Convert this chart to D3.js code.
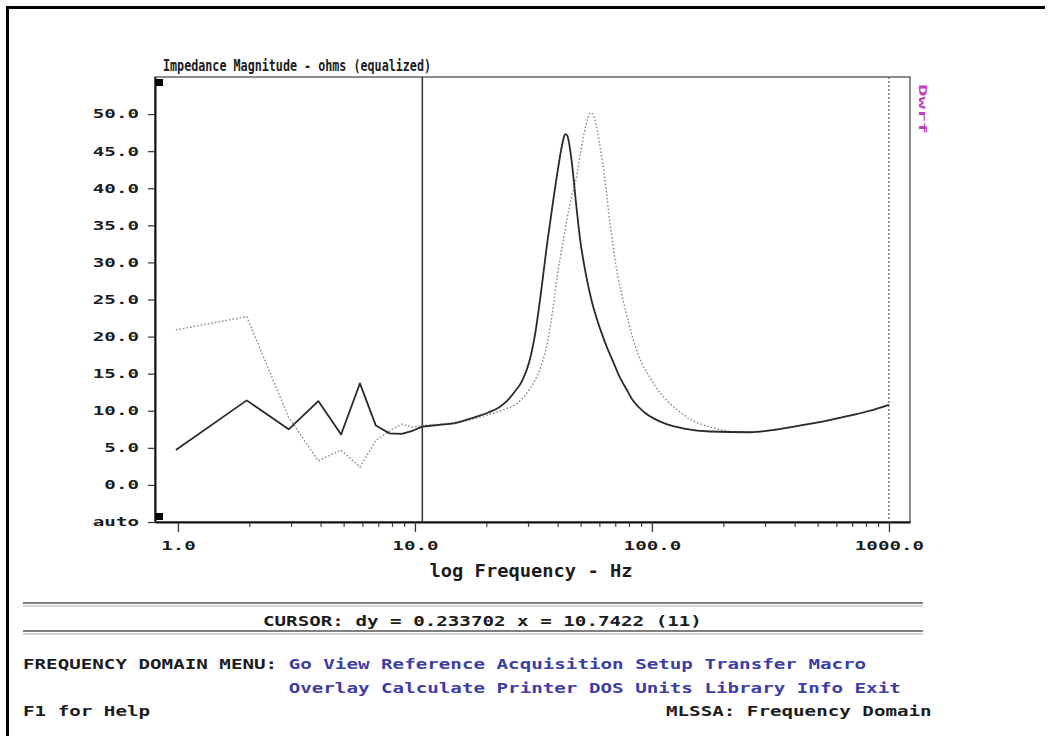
<!DOCTYPE html>
<html>
<head>
<meta charset="utf-8">
<script src="https://cdn.jsdelivr.net/npm/d3@7"></script>
<style>
  html, body { margin: 0; padding: 0; background: #fff; }
  svg text { font-family: "DejaVu Sans Mono", monospace; font-weight: bold; }
</style>
</head>
<body>
<svg id="chart" width="1050" height="736"></svg>
<script>
// MLSSA impedance screen: measured curve (solid) vs reference overlay (dotted)

// measured curve, Hz / ohms
const measFreq = [0.98, 1.95, 2.93, 3.91, 4.88, 5.86, 6.84, 7.81, 8.79, 9.77, 10.74,
  12.7, 14.6, 16.6, 18.6, 20.5, 22.5, 24.4, 26.4, 28.3, 30.3, 32.2, 34.2, 36.1, 38.1,
  40.0, 42.0, 43.0, 43.9, 45.9, 47.9, 49.8, 51.8, 53.7, 55.7, 57.6, 60.5, 64.5, 68.4,
  73.2, 78.1, 83.0, 92.8, 102.5, 115.2, 136.7, 175.8, 258.8, 322, 420, 537, 684, 830, 1000];
const measOhms = [4.7, 11.4, 7.5, 11.3, 6.8, 13.7, 8.0, 6.95, 6.87, 7.3, 7.86,
  8.1, 8.3, 8.8, 9.3, 9.8, 10.4, 11.3, 12.6, 14.0, 16.5, 20.5, 26.5, 32.5, 37.8,
  42.3, 46.2, 47.3, 47.1, 43.5, 37.8, 33.0, 29.6, 27.0, 24.8, 23.1, 21.0, 18.6, 16.7,
  14.5, 12.9, 11.4, 9.8, 8.9, 8.2, 7.6, 7.2, 7.1, 7.4, 8.0, 8.6, 9.35, 10.0, 10.8];

// reference overlay, Hz / ohms
const refFreq = [0.98, 1.95, 2.93, 3.91, 4.88, 5.86, 6.84, 7.81, 8.79, 9.77, 10.74,
  12.7, 14.6, 16.6, 18.6, 20.5, 22.5, 24.4, 26.4, 28.3, 30.3, 32.2, 34.2, 36.1, 38.1,
  40.0, 42.0, 43.9, 45.9, 47.9, 49.8, 51.8, 53.7, 55.1, 56.6, 58.6, 60.5, 62.5, 64.5,
  66.4, 68.4, 70.3, 72.3, 75.2, 78.1, 83.0, 88.9, 97.9, 107, 117, 127, 146, 176, 205,
  240, 270, 322, 420, 537, 684, 830, 1000];
const refOhms = [20.9, 22.7, 9.1, 3.25, 4.7, 2.4, 6.0, 7.3, 8.2, 7.8, 8.0,
  8.2, 8.4, 8.7, 9.1, 9.5, 9.9, 10.3, 10.8, 11.6, 12.8, 14.2, 16.2, 19.0, 23.5,
  28.5, 32.5, 36.0, 39.0, 41.3, 44.5, 47.5, 49.5, 50.2, 49.8, 48.0, 45.5, 42.5, 39.0,
  35.5, 32.5, 29.8, 27.6, 25.2, 23.0, 19.8, 17.0, 14.5, 12.6, 11.2, 10.2, 8.8, 7.8, 7.3,
  7.1, 7.1, 7.4, 8.0, 8.6, 9.35, 10.0, 10.8];

const yTickValues = [-5, 0, 5, 10, 15, 20, 25, 30, 35, 40, 45, 50];
const yTickLabels = ['auto', '0.0', '5.0', '10.0', '15.0', '20.0', '25.0', '30.0', '35.0', '40.0', '45.0', '50.0'];
const xTickValues = [1, 10, 100, 1000];
const xTickLabels = ['1.0', '10.0', '100.0', '1000.0'];
const xMinorValues = [2, 3, 4, 5, 6, 7, 8, 9, 20, 30, 40, 50, 60, 70, 80, 90, 200, 300, 400, 500, 600, 700, 800, 900];
const cursorFreq = 10.7422;
const markFreq = 1000;

const menuLine1 = ['Go', 'View', 'Reference', 'Acquisition', 'Setup', 'Transfer', 'Macro'];
const menuLine2 = ['Overlay', 'Calculate', 'Printer', 'DOS', 'Units', 'Library', 'Info', 'Exit'];

const CW = 11.55;            // width of one screen character cell
const INK = '#1c1c1c', BLUE = '#3d3da6', MAGENTA = '#c23cc2';

const svg = d3.select('#chart');
const stretch = (sel, cw) => sel.each(function () {
  d3.select(this).attr('textLength', this.textContent.length * cw).attr('lengthAdjust', 'spacingAndGlyphs');
});

// outer window frame (top + left)
svg.append('path').attr('d', 'M7.5,736 V7.5 H1045').attr('fill', 'none').attr('stroke', '#000').attr('stroke-width', 3);

const L = 155, R = 910, T = 77, B = 522;
const x = d3.scaleLog().domain([0.8, 1227]).range([L, R]);
const y = d3.scaleLinear().domain([-5, 55]).range([B, T]);

// plot frame
svg.append('rect').attr('x', L).attr('y', T).attr('width', R - L).attr('height', B - T)
  .attr('fill', 'none').attr('stroke', '#666').attr('stroke-width', 1.5);

// title
svg.append('text').attr('x', 163).attr('y', 71).attr('font-size', 15.5).attr('fill', INK)
  .attr('textLength', 268).attr('lengthAdjust', 'spacingAndGlyphs')
  .text('Impedance Magnitude - ohms (equalized)');

// y axis
const yAxis = svg.append('g').attr('transform', `translate(${L},0)`)
  .call(d3.axisLeft(y).tickValues(yTickValues).tickFormat((d, i) => yTickLabels[i]).tickSize(7).tickPadding(9).tickSizeOuter(0));
yAxis.select('.domain').attr('stroke', '#111').attr('stroke-width', 2);
yAxis.selectAll('.tick line').attr('stroke', '#333').attr('stroke-width', 1.2);
yAxis.selectAll('.tick text').attr('font-size', 12).attr('fill', INK).attr('font-family', null).call(stretch, CW);

// x axis (minor then major)
const xMinor = svg.append('g').attr('transform', `translate(0,${B})`)
  .call(d3.axisBottom(x).tickValues(xMinorValues).tickFormat('').tickSize(5).tickSizeOuter(0));
xMinor.select('.domain').remove();
xMinor.selectAll('.tick line').attr('stroke', '#444').attr('stroke-width', 1.2);

const xAxis = svg.append('g').attr('transform', `translate(0,${B})`)
  .call(d3.axisBottom(x).tickValues(xTickValues).tickFormat((d, i) => xTickLabels[i]).tickSize(10).tickPadding(9.5).tickSizeOuter(0));
xAxis.select('.domain').attr('stroke', '#111').attr('stroke-width', 2);
xAxis.selectAll('.tick line').attr('stroke', '#333').attr('stroke-width', 1.3);
xAxis.selectAll('.tick text').attr('font-size', 12).attr('fill', INK).attr('font-family', null).call(stretch, CW);

svg.append('text').attr('x', 531).attr('y', 577).attr('text-anchor', 'middle').attr('font-size', 17).attr('fill', INK)
  .attr('textLength', 203).attr('lengthAdjust', 'spacingAndGlyphs').text('log Frequency - Hz');

// cursor and 1000 Hz marker
svg.append('line').attr('x1', x(cursorFreq)).attr('x2', x(cursorFreq)).attr('y1', T).attr('y2', B)
  .attr('stroke', '#333').attr('stroke-width', 1.5);
svg.append('line').attr('x1', x(markFreq)).attr('x2', x(markFreq)).attr('y1', T).attr('y2', B)
  .attr('stroke', '#666').attr('stroke-width', 1.3).attr('stroke-dasharray', '2,2');

// curves: straight segments at the low-frequency bins, smooth above the cursor
const zip = (fs, vs) => fs.map((f, i) => [f, vs[i]]);
const lineLin = d3.line().x(d => x(d[0])).y(d => y(d[1]));
const lineSmooth = d3.line().x(d => x(d[0])).y(d => y(d[1])).curve(d3.curveMonotoneX);
function drawCurve(pts, style) {
  const lo = pts.filter(d => d[0] <= cursorFreq + 0.01);
  const hi = pts.filter(d => d[0] >= cursorFreq - 0.01);
  [lineLin(lo), lineSmooth(hi)].forEach(d => {
    const p = svg.append('path').attr('d', d).attr('fill', 'none');
    Object.entries(style).forEach(([k, v]) => p.attr(k, v));
  });
}
drawCurve(zip(refFreq, refOhms), { stroke: '#8a8a8a', 'stroke-width': 1.4, 'stroke-dasharray': '1.6,2' });
drawCurve(zip(measFreq, measOhms), { stroke: '#2a2a2a', 'stroke-width': 1.8, 'stroke-linejoin': 'round' });

// corner markers
[T + 2, B - 9].forEach(yy => svg.append('rect').attr('x', L + 1).attr('y', yy).attr('width', 7).attr('height', 7).attr('fill', '#000'));

// overlay name (vertical, magenta)
svg.append('text').attr('transform', 'translate(919,84) rotate(90)').attr('font-size', 11).attr('fill', MAGENTA)
  .attr('textLength', 50).attr('lengthAdjust', 'spacingAndGlyphs').text('Dwrf');

// status area
const rule = (yy, c, w) => svg.append('line').attr('x1', 23).attr('x2', 923).attr('y1', yy).attr('y2', yy).attr('stroke', c).attr('stroke-width', w);
rule(603, '#555', 1.5); rule(606, '#aaa', 1);
rule(631, '#555', 1.5); rule(634, '#aaa', 1);

function gridText(col, row, str, color) {
  svg.append('text').attr('x', 23 + col * CW).attr('y', row).attr('font-size', 14).attr('fill', color)
    .text(str).call(stretch, CW);
}
svg.append('text').attr('x', 263).attr('y', 626).attr('font-size', 14).attr('fill', INK)
  .text('CURSOR: dy = 0.233702 x = 10.7422 (11)').call(stretch, CW);
gridText(0, 669, 'FREQUENCY DOMAIN MENU:', INK);
gridText(23, 669, menuLine1.join(' '), BLUE);
gridText(23, 693, menuLine2.join(' '), BLUE);
gridText(0, 716, 'F1 for Help', INK);
svg.append('text').attr('x', 666).attr('y', 716).attr('font-size', 14).attr('fill', INK)
  .text('MLSSA: Frequency Domain').call(stretch, CW);
</script>
</body>
</html>
